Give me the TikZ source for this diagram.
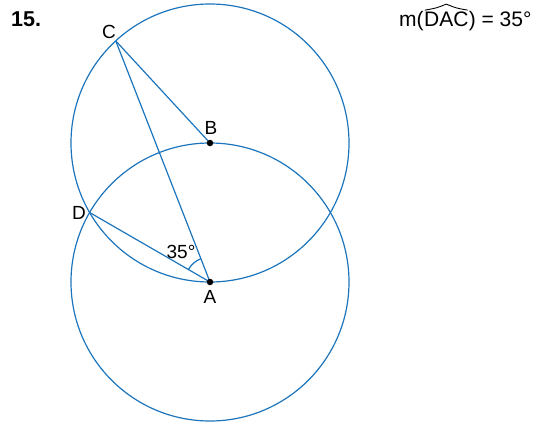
\documentclass[tikz,border=0pt]{standalone}
\usepackage{fontspec}
\setmainfont{Liberation Sans}
\usetikzlibrary{calc}
\definecolor{geoblue}{RGB}{28,117,188}
\begin{document}
\begin{tikzpicture}[x=1pt,y=-1pt,
  geoline/.style={draw=geoblue,line width=1.2pt},
  ptdot/.style={circle,fill=black,inner sep=0pt,minimum size=6.5pt},
  lbl/.style={font=\fontsize{19}{22}\selectfont,inner sep=0pt},
  ftxt/.style={font=\fontsize{21}{25}\selectfont,inner sep=0pt,anchor=base west}]
\useasboundingbox (0,0) rectangle (541,426);
\coordinate (A) at (210,282);
\coordinate (B) at (210,143);
\coordinate (C) at ($(B)+(-132.7:139)$);
\coordinate (D) at ($(A)+(-150:139)$);
\draw[geoline] (A) circle[radius=139];
\draw[geoline] (B) circle[radius=139];
\draw[geoline] (C) -- (A);
\draw[geoline] (C) -- (B);
\draw[geoline] (D) -- (A);
\draw[geoline] ($(A)+(-150:25)$) arc[start angle=-150,end angle=-111.3,radius=25];
\node[ptdot] (Adot) at (A) {};
\node[ptdot] (Bdot) at (B) {};
\node[lbl] (Alab) at (210,297) {A};
\node[lbl] (Blab) at (211,128) {B};
\node[lbl] (Clab) at (109,32) {C};
\node[lbl] (Dlab) at (79,213) {D};
\node[lbl] (ang) at (181,252) {35°};
\node[font=\fontsize{21.5}{25}\selectfont\bfseries,inner sep=0pt,anchor=base west] (num) at (11,26) {15.};
\node[ftxt] (m) at (399,26) {m(};
\node[ftxt] (dac) at (m.base east) {DAC};
\node[ftxt] (rest) at (dac.base east) {) = 35°};
\draw[black,line width=0.9pt] ($(dac.north west)+(1,-1)$) .. controls ($(dac.north)+(-10,-3)$) .. ($(dac.north)+(0,-7)$) .. controls ($(dac.north)+(10,-3)$) .. ($(dac.north east)+(-1,-1)$);
\end{tikzpicture}
\end{document}
